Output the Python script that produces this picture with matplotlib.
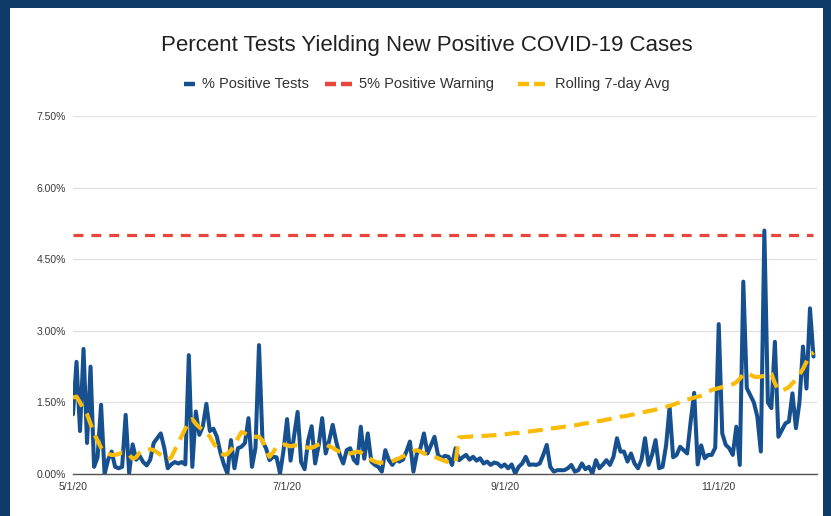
import numpy as np
import matplotlib.pyplot as plt
from matplotlib.patches import Rectangle

plt.rcParams['font.family'] = ['Liberation Sans', 'DejaVu Sans']

start_date = np.datetime64('2020-05-01')

# daily % of tests positive, starting 5/1/20
positive_pct = [
    1.25, 2.35, 0.9, 2.62, 0.65, 2.25, 0.15, 0.35, 1.45, 0.0,
    0.3, 0.47, 0.15, 0.12, 0.15, 1.24, 0.02, 0.62, 0.3, 0.38,
    0.25, 0.18, 0.3, 0.65, 0.75, 0.85, 0.55, 0.12, 0.2, 0.25,
    0.22, 0.25, 0.2, 2.49, 0.15, 1.31, 0.82, 1.0, 1.47, 0.9,
    0.95, 0.78, 0.45, 0.2, 0.01, 0.71, 0.12, 0.54, 0.57, 0.65,
    1.17, 0.15, 0.55, 2.7, 0.68, 0.54, 0.29, 0.36, 0.35, 0.01,
    0.5, 1.15, 0.28, 0.8, 1.3, 0.25, 0.1, 0.7, 1.0, 0.22,
    0.6, 1.17, 0.43, 0.7, 1.03, 0.68, 0.4, 0.22, 0.5, 0.54,
    0.3, 0.22, 0.99, 0.32, 0.85, 0.26, 0.19, 0.15, 0.05, 0.5,
    0.29, 0.19, 0.3, 0.26, 0.3, 0.47, 0.68, 0.05, 0.43, 0.54,
    0.85, 0.43, 0.6, 0.78, 0.4, 0.33, 0.38, 0.36, 0.19, 0.54,
    0.29, 0.35, 0.4, 0.3, 0.36, 0.28, 0.33, 0.22, 0.26, 0.19,
    0.24, 0.22, 0.15, 0.2, 0.12, 0.2, 0.01, 0.15, 0.22, 0.36,
    0.19, 0.2, 0.19, 0.22, 0.4, 0.61, 0.15, 0.05, 0.08, 0.08,
    0.08, 0.12, 0.19, 0.05, 0.08, 0.22, 0.1, 0.15, 0.01, 0.29,
    0.12, 0.2, 0.29, 0.19, 0.36, 0.75, 0.47, 0.47, 0.26, 0.43,
    0.22, 0.12, 0.3, 0.75, 0.19, 0.4, 0.71, 0.12, 0.15, 0.6,
    1.4, 0.35, 0.4, 0.57, 0.5, 0.43, 1.1, 1.7, 0.2, 0.6,
    0.33, 0.4, 0.4, 0.55, 3.14, 0.85, 0.61, 0.54, 0.4, 0.99,
    0.19, 4.03, 1.8, 1.65, 1.5, 1.2, 0.47, 5.1, 1.5, 1.38,
    2.77, 0.78, 0.92, 1.06, 1.1, 1.69, 0.96, 1.5, 2.67, 1.79,
    3.47, 2.46,
]

rolling_avg = [
    1.6, 1.62, 1.5, 1.35, 1.25, 1.05, 0.85, 0.7, 0.55, 0.45,
    0.42, 0.4, 0.4, 0.42, 0.45, 0.45, 0.4, 0.32, 0.35, 0.45,
    0.5, 0.5, 0.52, 0.5, 0.45, 0.4, 0.35, 0.3, 0.35, 0.5,
    0.65, 0.8, 0.95, 1.1, 1.15, 1.05, 0.98, 0.92, 0.88, 0.78,
    0.65, 0.55, 0.45, 0.4, 0.42, 0.5, 0.6, 0.75, 0.88, 0.85,
    0.8, 0.78, 0.78, 0.78, 0.7, 0.5, 0.36, 0.45, 0.58, 0.6,
    0.62, 0.6, 0.58, 0.6, 0.6, 0.58, 0.56, 0.55, 0.55, 0.58,
    0.62, 0.65, 0.62, 0.58, 0.55, 0.5, 0.47, 0.44, 0.42, 0.43,
    0.45, 0.47, 0.45, 0.4, 0.35, 0.3, 0.26, 0.24, 0.24, 0.24,
    0.25, 0.27, 0.3, 0.33, 0.37, 0.4, 0.44, 0.48, 0.5, 0.47,
    0.43, 0.4, 0.38, 0.36, 0.33, 0.3, 0.27, 0.25, 0.24, 0.24,
    0.77, 0.77, 0.78, 0.78, 0.79, 0.79, 0.79, 0.8, 0.8, 0.81,
    0.81, 0.82, 0.82, 0.83, 0.84, 0.85, 0.86, 0.86, 0.87, 0.88,
    0.89, 0.9, 0.91, 0.92, 0.93, 0.94, 0.95, 0.96, 0.97, 0.98,
    0.99, 1.0, 1.01, 1.02, 1.03, 1.05, 1.06, 1.07, 1.08, 1.1,
    1.11, 1.12, 1.14, 1.15, 1.17, 1.18, 1.2, 1.21, 1.22, 1.24,
    1.25, 1.27, 1.29, 1.3, 1.32, 1.33, 1.35, 1.37, 1.39, 1.41,
    1.43, 1.45, 1.48, 1.5, 1.53, 1.56, 1.58, 1.6, 1.62, 1.64,
    1.68, 1.72, 1.76, 1.78, 1.8, 1.82, 1.83, 1.84, 1.88, 1.92,
    2.0, 2.08, 2.12, 2.08, 2.04, 2.03, 2.04, 2.06, 2.12, 2.1,
    1.9, 1.76, 1.74, 1.78, 1.82, 1.9, 1.98, 2.08, 2.2, 2.35,
    2.49, 2.55,
]

warning_level = 5.0

y_ticks = [0, 1.5, 3.0, 4.5, 6.0, 7.5]
x_tick_dates = ['2020-05-01', '2020-07-01', '2020-09-01', '2020-11-01']
x_tick_labels = ['5/1/20', '7/1/20', '9/1/20', '11/1/20']
series_names = ['% Positive Tests', '5% Positive Warning', 'Rolling 7-day Avg']

dates = start_date + np.arange(len(positive_pct))

blue = '#17508f'
red = '#e8453c'
yellow = '#fbbc09'
W, H = 831, 516

fig = plt.figure(figsize=(W / 100, H / 100), dpi=100, facecolor='#0d3a66')
fig.patches.append(Rectangle((10 / W, 0), 813 / W, 508 / H,
                             transform=fig.transFigure, facecolor='white',
                             edgecolor='none', zorder=-10))
ax = fig.add_axes([73 / W, 1 - 474 / H, 744 / W, 358 / H])
ax.set_facecolor('white')

ax.plot(dates, positive_pct, color=blue, lw=2.9, zorder=3,
        solid_joinstyle='round', solid_capstyle='round')
ax.plot([dates[0], dates[-1]], [warning_level, warning_level], color=red,
        lw=2.3, dashes=(3.1, 2.5), zorder=2)
ax.plot(dates, rolling_avg, color=yellow, lw=3.0, dashes=(3.6, 2.0),
        zorder=4)

ax.set_ylim(0, 7.5)
ax.set_xlim(start_date, start_date + np.timedelta64(212, 'D'))
ax.set_yticks(y_ticks)
ax.set_yticklabels(['%.2f%%' % t for t in y_ticks])
ax.set_xticks([np.datetime64(d) for d in x_tick_dates])
ax.set_xticklabels(x_tick_labels)
ax.tick_params(length=0, labelsize=7.5, labelcolor='#3a3a3a')
ax.tick_params(axis='y', pad=5)
ax.tick_params(axis='x', pad=6)
ax.grid(axis='y', color='#e2e2e2', lw=1)
ax.set_axisbelow(True)
for side in ['top', 'right', 'left']:
    ax.spines[side].set_visible(False)
ax.spines['bottom'].set_color('#555555')
ax.spines['bottom'].set_linewidth(1)
ax.spines['bottom'].set_zorder(5)

# title and hand-placed legend, in pixel coordinates of the figure
over = fig.add_axes([0, 0, 1, 1], zorder=-5)
over.set_xlim(0, W)
over.set_ylim(H, 0)
over.axis('off')
over.text(427, 46, 'Percent Tests Yielding New Positive COVID-19 Cases',
          ha='center', va='center', fontsize=16, color='#222222')

legend_y = 84
over.plot([184, 195], [legend_y, legend_y], color=blue, lw=3.2,
          solid_capstyle='butt')
over.plot([325, 336], [legend_y, legend_y], color=red, lw=3.2,
          solid_capstyle='butt')
over.plot([341, 352], [legend_y, legend_y], color=red, lw=3.2,
          solid_capstyle='butt')
over.plot([518, 529], [legend_y, legend_y], color=yellow, lw=3.2,
          solid_capstyle='butt')
over.plot([534, 545], [legend_y, legend_y], color=yellow, lw=3.2,
          solid_capstyle='butt')
for x0, name in zip([202, 359, 555], series_names):
    over.text(x0, legend_y, name, ha='left', va='center', fontsize=10.5,
              color='#333333')

fig.savefig('out.png', dpi=100, facecolor=fig.get_facecolor())
